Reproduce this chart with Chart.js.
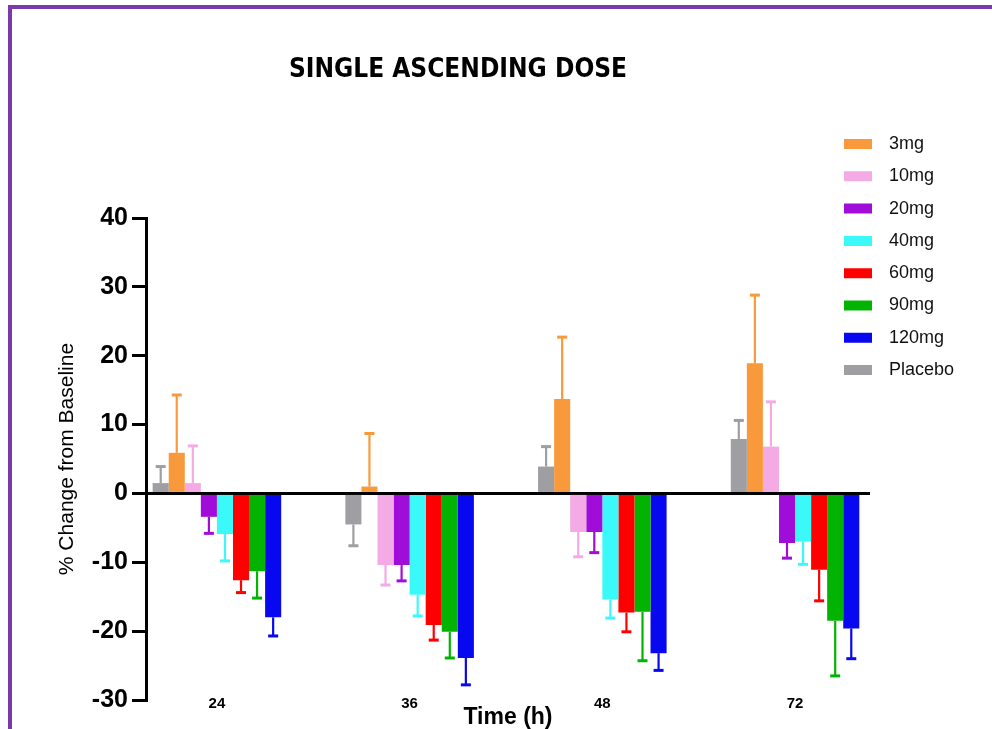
<!DOCTYPE html>
<html><head><meta charset="utf-8">
<script src="https://cdn.jsdelivr.net/npm/chart.js@4.4.1/dist/chart.umd.min.js"></script>
<style>
html,body{margin:0;padding:0;background:#fff;}
#wrap{position:relative;width:992px;height:729px;overflow:hidden;background:#fff;}
#frame{position:absolute;left:8px;top:5px;right:-10px;bottom:-10px;border-top:4px solid #7B3AAC;border-left:4px solid #7B3AAC;pointer-events:none;}
canvas{position:absolute;left:0;top:0;}
</style></head><body>
<div id="wrap"><canvas id="c" width="992" height="729"></canvas><div id="frame"></div></div>
<script>
// ---- data ----
const timeLabels = ['24', '36', '48', '72'];
const seriesNames = ['3mg', '10mg', '20mg', '40mg', '60mg', '90mg', '120mg', 'Placebo'];
const mean3mg   = [5.9, 1.0, 13.7, 18.9];
const err3mg    = [8.4, 7.7, 9.0, 9.9];
const mean10mg  = [1.5, -10.4, -5.6, 6.8];
const err10mg   = [5.4, 2.9, 3.6, 6.5];
const mean20mg  = [-3.4, -10.4, -5.6, -7.2];
const err20mg   = [2.4, 2.3, 3.0, 2.2];
const mean40mg  = [-5.9, -14.7, -15.4, -7.0];
const err40mg   = [3.9, 3.1, 2.7, 3.3];
const mean60mg  = [-12.6, -19.1, -17.3, -11.1];
const err60mg   = [1.8, 2.2, 2.8, 4.5];
const mean90mg  = [-11.3, -20.1, -17.2, -18.5];
const err90mg   = [3.9, 3.8, 7.1, 8.0];
const mean120mg = [-18.0, -23.9, -23.2, -19.6];
const err120mg  = [2.7, 3.9, 2.5, 4.4];
const meanPlacebo = [1.5, -4.5, 3.9, 7.9];
const errPlacebo  = [2.4, 3.1, 2.9, 2.7];
const yTicks = [-30, -20, -10, 0, 10, 20, 30, 40];

// ---- styling ----
const seriesColors = ['#F89A3C', '#F3AAE5', '#A10DD8', '#3CF9F9', '#FF0000', '#02B302', '#0808F0', '#9E9EA3'];
const means = [mean3mg, mean10mg, mean20mg, mean40mg, mean60mg, mean90mg, mean120mg, meanPlacebo];
const errs  = [err3mg, err10mg, err20mg, err40mg, err60mg, err90mg, err120mg, errPlacebo];

Chart.defaults.font.family = "'Liberation Sans', Arial, sans-serif";
Chart.defaults.color = '#000';

const datasets = seriesNames.map((name, k) => ({
  label: name,
  data: means[k].map((v, i) => ({x: i, y: v})),
  errors: errs[k],
  backgroundColor: seriesColors[k],
  borderWidth: 0,
  order: name === 'Placebo' ? -1 : 0,
  categoryPercentage: 0.667,
  barPercentage: 1.0
}));

const errorBars = {
  id: 'errorBars',
  afterDatasetsDraw(chart) {
    const ys = chart.scales.y;
    const ctx = chart.ctx;
    chart.data.datasets.forEach((ds, di) => {
      const meta = chart.getDatasetMeta(di);
      if (meta.hidden) return;
      meta.data.forEach((bar, i) => {
        const v = ds.data[i].y;
        const e = ds.errors[i];
        const end = v >= 0 ? v + e : v - e;
        const y0 = ys.getPixelForValue(v);
        const y1 = ys.getPixelForValue(end);
        ctx.save();
        ctx.strokeStyle = ds.backgroundColor;
        ctx.lineWidth = 2.2;
        ctx.beginPath();
        ctx.moveTo(bar.x, y0);
        ctx.lineTo(bar.x, y1);
        ctx.stroke();
        ctx.lineWidth = 3;
        ctx.beginPath();
        ctx.moveTo(bar.x - 5, y1);
        ctx.lineTo(bar.x + 5, y1);
        ctx.stroke();
        ctx.restore();
      });
    });
  }
};

const placeBlocks = {
  id: 'placeBlocks',
  beforeDraw(chart) {
    const lg = chart.legend;
    if (lg) {
      lg.left = 829.7; lg.top = 124.7; lg.width = 160; lg.right = lg.left + 160;
      lg.height = 729 - lg.top; lg.bottom = 729;
    }
    const tb = chart.titleBlock;
    if (tb) {
      const w = tb.right - tb.left;
      tb.left = 458 - w / 2; tb.right = 458 + w / 2;
    }
    // let the time labels sit slightly above the x scale box without being clipped
    if (chart.scales.x) chart.scales.x._computeLabelArea = () => undefined;
  }
};

new Chart(document.getElementById('c'), {
  type: 'bar',
  data: { datasets },
  options: {
    responsive: false,
    animation: false,
    layout: { padding: { left: 54.9, right: 121, top: 0, bottom: -2.3 } },
    plugins: {
      tooltip: { enabled: false },
      title: {
        display: true,
        text: 'SINGLE ASCENDING DOSE',
        color: '#000',
        font: { family: "'Liberation Sans Narrow', 'Arial Narrow', 'DejaVu Sans Condensed', sans-serif", size: 26, weight: 'bold' },
        padding: { top: 54.4, bottom: 132.4 }
      },
      legend: {
        position: 'right',
        align: 'start',
        maxWidth: 1,
        labels: {
          boxWidth: 44,
          boxHeight: 26,
          padding: 6.3,
          color: '#111',
          font: { size: 18 },
          sort: (a, b) => a.datasetIndex - b.datasetIndex,
          generateLabels(chart) {
            const items = Chart.defaults.plugins.legend.labels.generateLabels(chart);
            items.forEach(it => { it.lineWidth = 16; it.strokeStyle = '#ffffff'; });
            return items;
          }
        }
      }
    },
    scales: {
      x: {
        type: 'linear',
        offset: false,
        min: -0.368,
        max: 3.389,
        afterBuildTicks(scale) { scale.ticks = timeLabels.map((_, i) => ({ value: i })); },
        afterFit(scale) { scale.height = 31.3; },
        grid: { display: false, drawTicks: false },
        border: { display: false },
        ticks: {
          padding: -5.5,
          color: '#000',
          font: { size: 15, weight: 'bold' },
          callback: (v) => timeLabels[v]
        },
        title: {
          display: true,
          text: 'Time (h)',
          color: '#000',
          font: { size: 23, weight: 'bold' },
          padding: { top: 0, bottom: 0 }
        }
      },
      y: {
        min: -30,
        max: 40,
        z: 1,
        afterBuildTicks(scale) { scale.ticks = yTicks.map(v => ({ value: v })); },
        afterFit(scale) { scale.width = 146 - 54.9; },
        border: { display: true, color: '#000', width: 3 },
        grid: {
          drawOnChartArea: true,
          color: (c) => (c.tick && c.tick.value === 0 ? '#000' : 'rgba(0,0,0,0)'),
          lineWidth: 3,
          tickColor: '#000',
          tickWidth: 3,
          tickLength: 14
        },
        ticks: {
          padding: 4,
          color: '#000',
          font: { size: 25, weight: 'bold' }
        },
        title: {
          display: true,
          text: '% Change from Baseline',
          color: '#000',
          font: { size: 21, weight: 'normal' },
          padding: { top: 0, bottom: 0 }
        }
      }
    }
  },
  plugins: [errorBars, placeBlocks]
});
</script>
</body></html>
